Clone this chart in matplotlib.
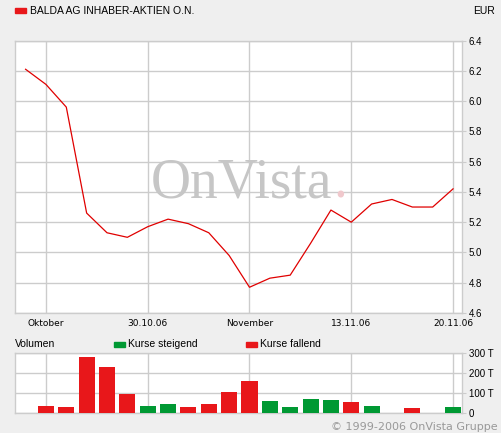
import matplotlib
matplotlib.use("Agg")
import matplotlib.pyplot as plt
from matplotlib.patches import Rectangle
from matplotlib.ticker import FixedLocator, FuncFormatter

W, H = 501, 433

# trading days 20.10.06 .. 20.11.06
days = ["20.10", "23.10", "24.10", "25.10", "26.10", "27.10",
        "30.10", "31.10", "01.11", "02.11", "03.11",
        "06.11", "07.11", "08.11", "09.11", "10.11",
        "13.11", "14.11", "15.11", "16.11", "17.11", "20.11"]
close = [6.21, 6.11, 5.96, 5.26, 5.13, 5.10,
         5.17, 5.22, 5.19, 5.13, 4.98,
         4.77, 4.83, 4.85, 5.06, 5.28,
         5.20, 5.32, 5.35, 5.30, 5.30, 5.42]
# volume in thousands, 0 = no bar
volume = [0, 37, 32, 282, 232, 97,
          37, 47, 32, 47, 107,
          162, 62, 32, 72, 67,
          57, 37, 0, 27, 0, 32]
rising = [False, False, False, False, False, False,
          True, True, False, False, False,
          False, True, True, True, True,
          False, True, False, False, False, True]

tick_idx = [1, 6, 11, 16, 21]
tick_labels = ["Oktober", "30.10.06", "November", "13.11.06", "20.11.06"]
price_ticks = [4.6, 4.8, 5.0, 5.2, 5.4, 5.6, 5.8, 6.0, 6.2, 6.4]
vol_ticks = [0, 100, 200, 300]

BG = "#efefef"
GRID = "#cccccc"
RED = "#e8171a"
GREEN = "#009933"

plt.rcParams["font.family"] = ["Liberation Sans", "DejaVu Sans"]

fig = plt.figure(figsize=(W / 100, H / 100), dpi=100, facecolor=BG)


def px(x, y):
    return x / W, 1 - y / H


def style_axes(ax):
    ax.set_facecolor("white")
    for s in ax.spines.values():
        s.set_color(GRID)
        s.set_linewidth(1)
    ax.grid(True, color=GRID, lw=1)
    ax.set_axisbelow(True)
    ax.yaxis.tick_right()
    ax.tick_params(axis="y", which="both", length=3, color=GRID,
                   labelsize=7, pad=2, labelcolor="#000")
    ax.tick_params(axis="x", length=0)


x = list(range(len(days)))
xlim = (-0.52, 21.44)

# price
ax = fig.add_axes([15 / W, (H - 313) / H, (462 - 15) / W, (313 - 40.5) / H])
style_axes(ax)
ax.plot(x, close, color="#e00000", lw=0.9, zorder=3)
ax.set_xlim(*xlim)
ax.set_ylim(4.6, 6.4)
ax.yaxis.set_major_locator(FixedLocator(price_ticks))
ax.yaxis.set_major_formatter(FuncFormatter(lambda v, _: f"{v:.1f}"))
ax.set_xticks(tick_idx)
ax.set_xticklabels(tick_labels, fontsize=6.5, family="DejaVu Sans")
ax.tick_params(axis="x", pad=4)

# watermark
wm = fig.text(*px(151, 197), "OnVista", family="Liberation Serif",
              fontsize=40, color="#c6c6c6", ha="left", va="baseline", zorder=1)
fig.canvas.draw()
wm_end = wm.get_window_extent().x1
fig.text(wm_end / W + 1 / W, 1 - 197 / H, ".", family="Liberation Serif",
         fontsize=40, color="#f0c8cc", ha="left", va="baseline", zorder=1)

# volume
axv = fig.add_axes([15 / W, (H - 413) / H, (462 - 15) / W, 60 / H])
style_axes(axv)
colors = [GREEN if r else RED for r in rising]
axv.bar(x, volume, width=0.79, color=colors, zorder=3)
axv.set_xlim(*xlim)
axv.set_ylim(0, 300)
axv.set_xticks(tick_idx)
axv.set_xticklabels([])
axv.yaxis.set_major_locator(FixedLocator(vol_ticks))
axv.yaxis.set_major_formatter(FuncFormatter(lambda v, _: "0" if v == 0 else f"{v:.0f} T"))

# header
fig.patches.append(Rectangle(px(15, 13), 11 / W, 5 / H, color=RED,
                             transform=fig.transFigure, figure=fig))
fig.text(*px(30, 10.5), "BALDA AG INHABER-AKTIEN O.N.", fontsize=7.5, va="center")
fig.text(*px(495, 10.5), "EUR", fontsize=7.5, va="center", ha="right")

# volume legend
fig.text(*px(15, 344), "Volumen", fontsize=7.5, va="center")
fig.patches.append(Rectangle(px(114, 347), 11 / W, 5 / H, color=GREEN,
                             transform=fig.transFigure, figure=fig))
fig.text(*px(128, 344), "Kurse steigend", fontsize=7.5, va="center")
fig.patches.append(Rectangle(px(246, 347), 11 / W, 5 / H, color=RED,
                             transform=fig.transFigure, figure=fig))
fig.text(*px(260, 344), "Kurse fallend", fontsize=7.5, va="center")

fig.text(*px(498, 427), "\u00a9 1999-2006 OnVista Gruppe", fontsize=8,
         family="DejaVu Sans", va="center", ha="right", color="#999999")

fig.savefig("out.png", dpi=100, facecolor=BG)
